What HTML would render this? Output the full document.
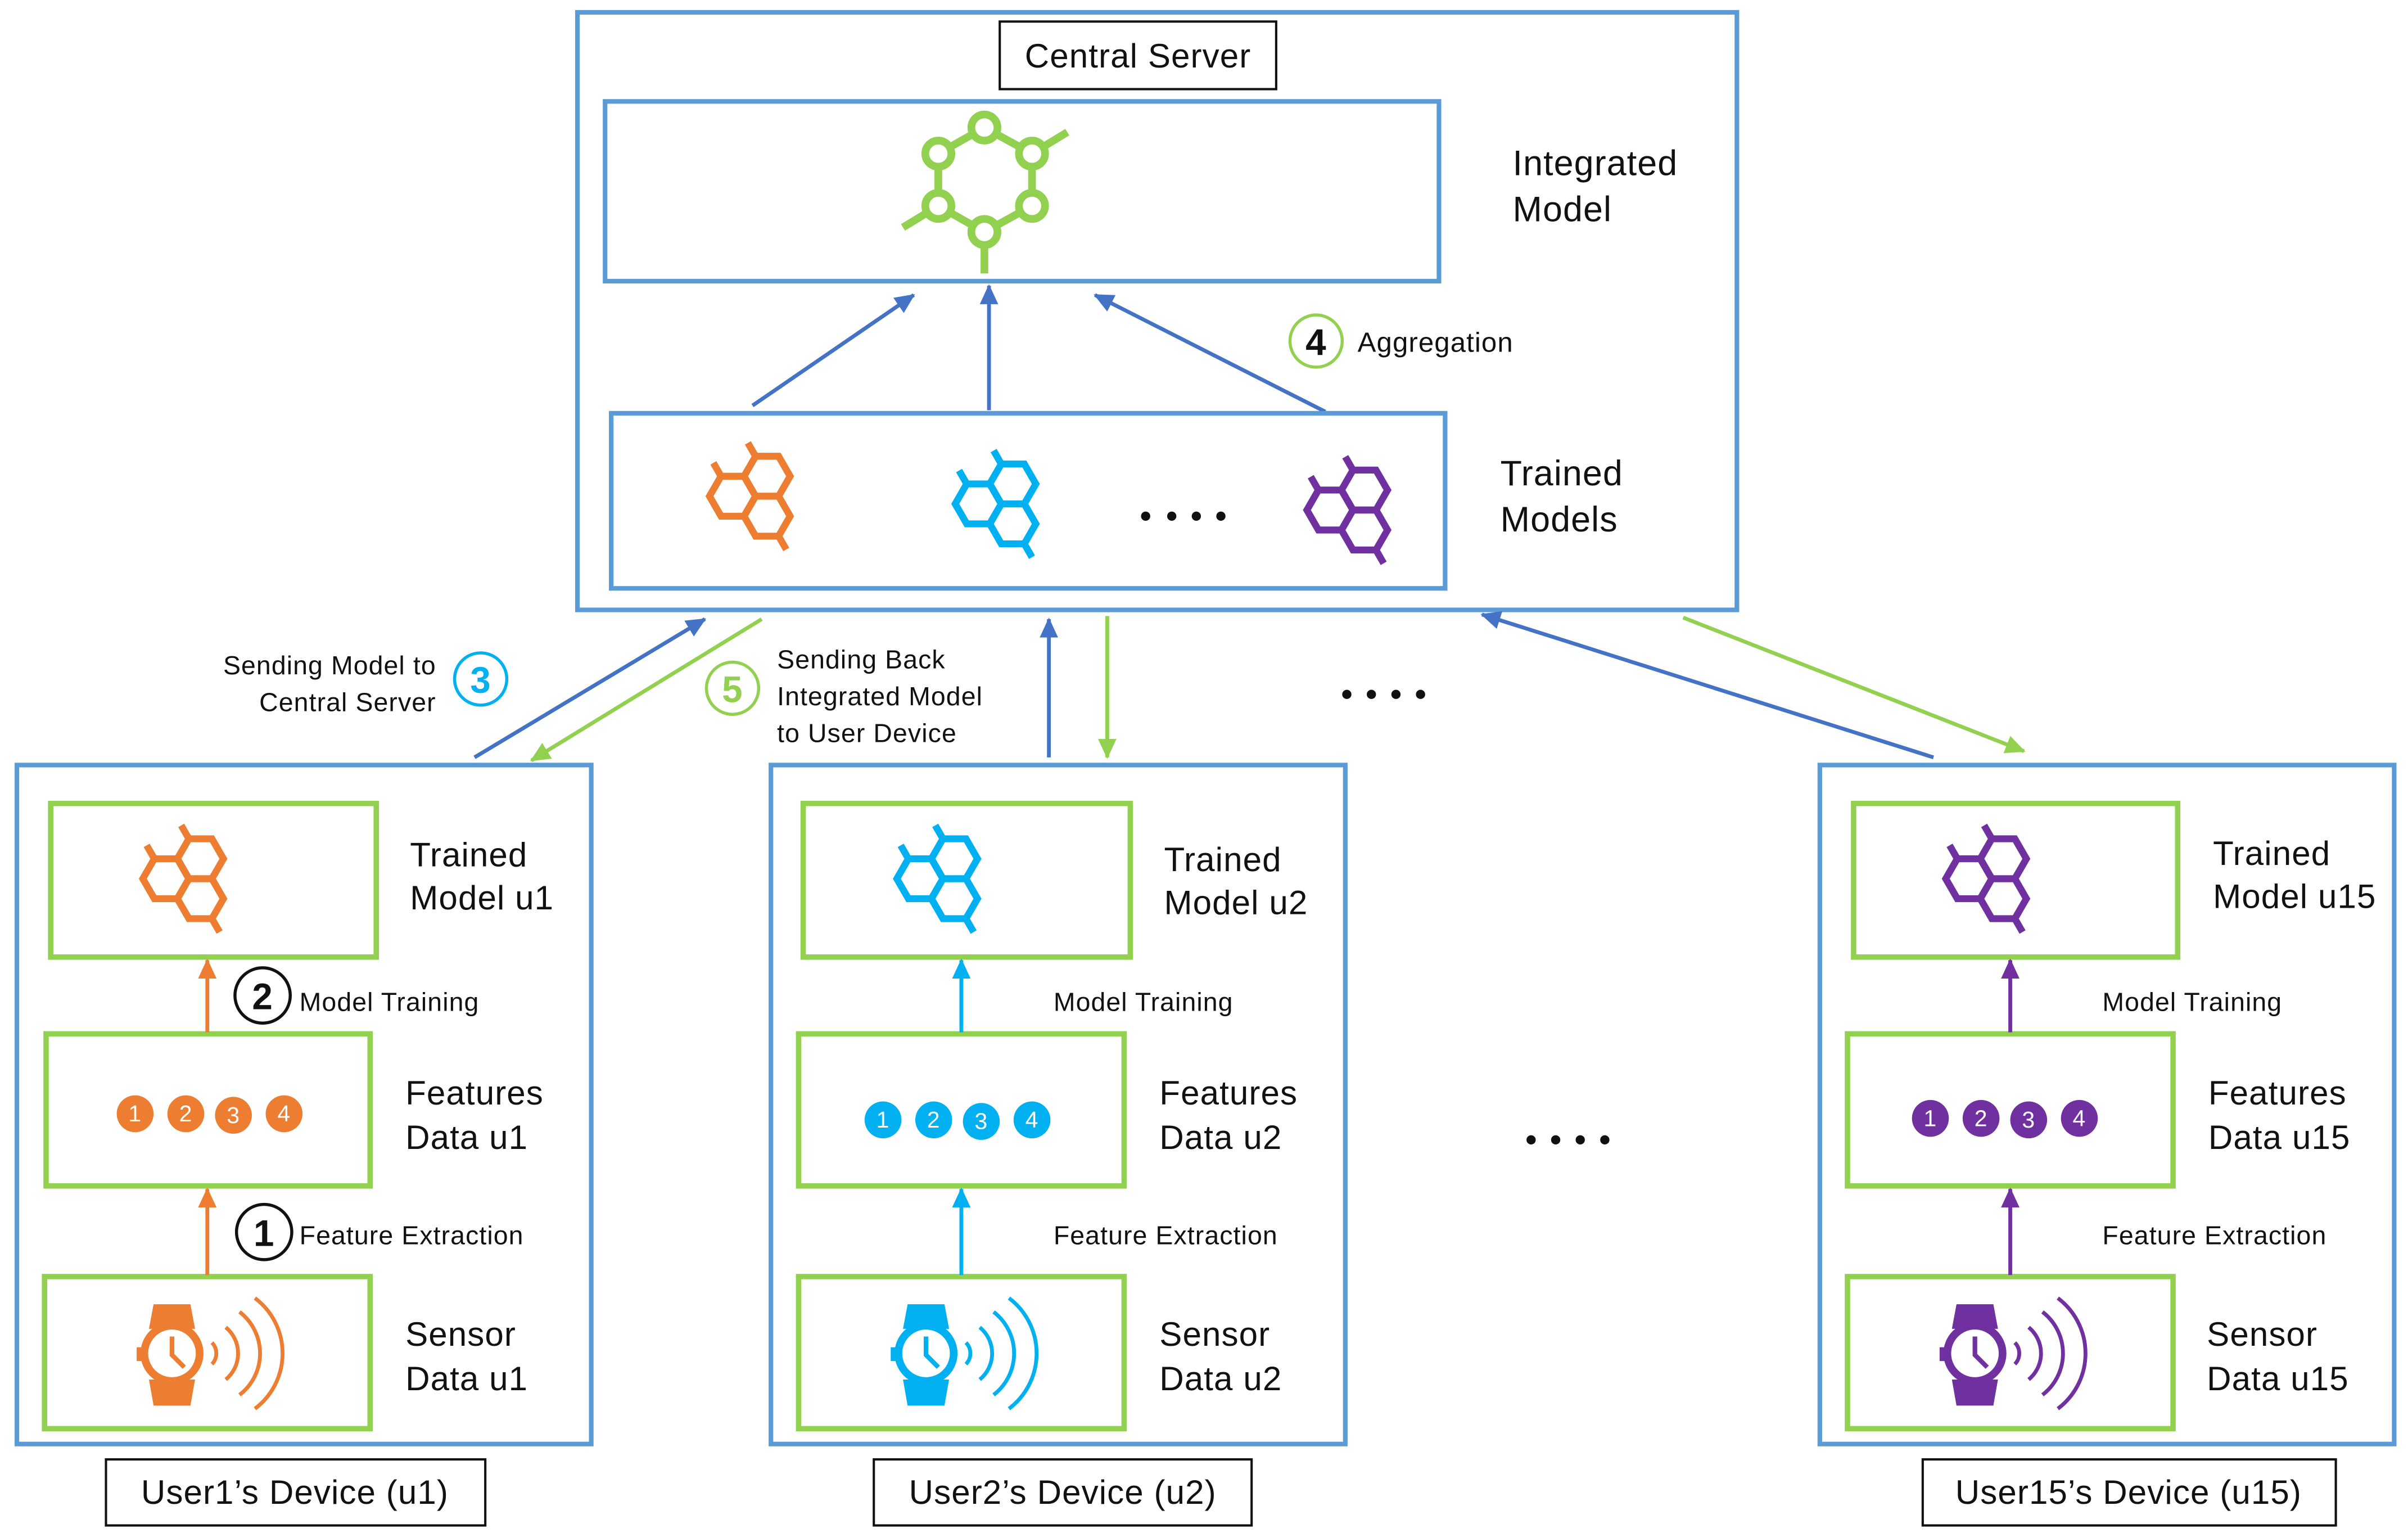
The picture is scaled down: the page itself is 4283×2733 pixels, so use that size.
<!DOCTYPE html>
<html><head><meta charset="utf-8"><style>
html,body{margin:0;padding:0;background:#fff}
svg{display:block}
text{font-family:"Liberation Sans",sans-serif;fill:#111;letter-spacing:0.4px}
</style></head><body>
<svg width="4283" height="2733" viewBox="0 0 1568 1000.5" xmlns="http://www.w3.org/2000/svg">
<defs>
<marker id="mB" markerUnits="userSpaceOnUse" markerWidth="14" markerHeight="14" refX="12" refY="7" orient="auto"><path d="M0,1 L13,7 L0,13 Z" fill="#4472C4"/></marker>
<marker id="mG" markerUnits="userSpaceOnUse" markerWidth="14" markerHeight="14" refX="12" refY="7" orient="auto"><path d="M0,1 L13,7 L0,13 Z" fill="#92D050"/></marker>
<marker id="mO" markerUnits="userSpaceOnUse" markerWidth="14" markerHeight="14" refX="12" refY="7" orient="auto"><path d="M0,1 L13,7 L0,13 Z" fill="#ED7D31"/></marker>
<marker id="mC" markerUnits="userSpaceOnUse" markerWidth="14" markerHeight="14" refX="12" refY="7" orient="auto"><path d="M0,1 L13,7 L0,13 Z" fill="#00B0F0"/></marker>
<marker id="mP" markerUnits="userSpaceOnUse" markerWidth="14" markerHeight="14" refX="12" refY="7" orient="auto"><path d="M0,1 L13,7 L0,13 Z" fill="#7030A0"/></marker>
<g id="hex" fill="none" stroke="currentColor" stroke-width="4.5">
<path d="M-15,0 L-7.5,-13 L7.5,-13 L15,0 L7.5,13 L-7.5,13 Z"/>
<path d="M7.5,-13 L15,-26 L30,-26 L37.5,-13 L30,0 L15,0 Z"/>
<path d="M7.5,13 L15,0 L30,0 L37.5,13 L30,26 L15,26 Z"/>
<path d="M-7.5,-13 L-12.5,-21.7 M15,-26 L10,-34.7 M30,26 L35,34.7"/>
</g>
<g id="watch">
<path d="M-13,-16 L-10,-32 L14,-32 L17,-16 Z" fill="currentColor"/>
<path d="M-13,17 L-10,34 L14,34 L17,17 Z" fill="currentColor"/>
<circle cx="2" cy="0" r="18" fill="#fff" stroke="currentColor" stroke-width="5"/>
<rect x="-21" y="-4" width="5" height="9" fill="currentColor"/>
<path d="M2,-11 L2,1 L10,9" fill="none" stroke="currentColor" stroke-width="3"/>
<g fill="none" stroke="currentColor" stroke-width="2.5">
<path d="M28,-7 A10,10 0 0 1 28,7"/>
<path d="M37,-17 A22,22 0 0 1 37,17"/>
<path d="M46,-27 A34,34 0 0 1 46,27"/>
<path d="M56,-36 A45,45 0 0 1 56,36"/>
</g>
</g>
</defs>

<!-- Central server -->
<rect x="376" y="8" width="755" height="389" fill="none" stroke="#5B9BD5" stroke-width="3"/>
<rect x="651" y="14" width="180" height="44" fill="#fff" stroke="#111" stroke-width="1.5"/>
<text x="741" y="44" font-size="22" text-anchor="middle">Central Server</text>
<rect x="394" y="66" width="543" height="117" fill="none" stroke="#5B9BD5" stroke-width="3"/>
<text x="985" y="114" font-size="23">Integrated</text>
<text x="985" y="144" font-size="23">Model</text>
<g stroke="#92D050" stroke-width="5" fill="none">
<path d="M641,83 L611,100 L611,134 L641,151 L672,134 L672,100 Z"/>
<path d="M672,100 L695,86 M611,134 L588,148 M641,151 L641,178"/>
</g>
<g fill="#fff" stroke="#92D050" stroke-width="5">
<circle cx="641" cy="83" r="8.5"/><circle cx="611" cy="100" r="8.5"/><circle cx="672" cy="100" r="8.5"/>
<circle cx="611" cy="134" r="8.5"/><circle cx="672" cy="134" r="8.5"/><circle cx="641" cy="151" r="8.5"/>
</g>
<g stroke="#4472C4" stroke-width="2.5">
<line x1="490" y1="264" x2="595" y2="192" marker-end="url(#mB)"/>
<line x1="644" y1="267" x2="644" y2="186" marker-end="url(#mB)"/>
<line x1="863" y1="268" x2="713" y2="192" marker-end="url(#mB)"/>
</g>
<circle cx="857" cy="222" r="17" fill="#fff" stroke="#92D050" stroke-width="2"/>
<text x="857" y="231" font-size="24" font-weight="bold" text-anchor="middle">4</text>
<text x="884" y="229" font-size="18">Aggregation</text>
<rect x="398" y="269" width="543" height="114" fill="none" stroke="#5B9BD5" stroke-width="3"/>
<text x="977" y="316" font-size="23">Trained</text>
<text x="977" y="346" font-size="23">Models</text>
<use href="#hex" x="477" y="323" style="color:#ED7D31"/>
<use href="#hex" x="637" y="328" style="color:#00B0F0"/>
<use href="#hex" x="866" y="332" style="color:#7030A0"/>
<g fill="#111"><circle cx="746" cy="336" r="3"/><circle cx="763" cy="336" r="3"/><circle cx="779" cy="336" r="3"/><circle cx="795" cy="336" r="3"/></g>

<line x1="309" y1="493" x2="459" y2="403" stroke="#4472C4" stroke-width="2.5" marker-end="url(#mB)"/>
<line x1="496" y1="403" x2="346" y2="495" stroke="#92D050" stroke-width="2.5" marker-end="url(#mG)"/>
<text x="284" y="439" font-size="17" text-anchor="end">Sending Model to</text>
<text x="284" y="463" font-size="17" text-anchor="end">Central Server</text>
<circle cx="313" cy="442" r="17" fill="#fff" stroke="#00B0F0" stroke-width="2"/>
<text x="313" y="451" font-size="24" font-weight="bold" text-anchor="middle" style="fill:#00B0F0">3</text>
<circle cx="477" cy="448" r="17" fill="#fff" stroke="#92D050" stroke-width="2"/>
<text x="477" y="457" font-size="24" font-weight="bold" text-anchor="middle" style="fill:#92D050">5</text>
<text x="506" y="435" font-size="17">Sending Back</text>
<text x="506" y="459" font-size="17">Integrated Model</text>
<text x="506" y="483" font-size="17">to User Device</text>
<line x1="683" y1="493" x2="683" y2="403" stroke="#4472C4" stroke-width="2.5" marker-end="url(#mB)"/>
<line x1="721" y1="401" x2="721" y2="493" stroke="#92D050" stroke-width="2.5" marker-end="url(#mG)"/>
<line x1="1259" y1="493" x2="965" y2="400" stroke="#4472C4" stroke-width="2.5" marker-end="url(#mB)"/>
<line x1="1096" y1="402" x2="1318" y2="489" stroke="#92D050" stroke-width="2.5" marker-end="url(#mG)"/>
<g fill="#111"><circle cx="877" cy="452" r="3"/><circle cx="893" cy="452" r="3"/><circle cx="909" cy="452" r="3"/><circle cx="925" cy="452" r="3"/>
<circle cx="997" cy="742" r="3"/><circle cx="1013" cy="742" r="3"/><circle cx="1029" cy="742" r="3"/><circle cx="1045" cy="742" r="3"/></g>

<!-- Device u1 -->
<rect x="11" y="498" width="374" height="442" fill="none" stroke="#5B9BD5" stroke-width="3"/>
<g fill="none" stroke="#92D050" stroke-width="3.5">
<rect x="33" y="523" width="212" height="100"/><rect x="30" y="673" width="211" height="99"/><rect x="29" y="831" width="212" height="99"/>
</g>
<use href="#hex" x="108" y="572" style="color:#ED7D31"/>
<g fill="#ED7D31"><circle cx="88" cy="725" r="12"/><circle cx="121" cy="725" r="12"/><circle cx="152" cy="726" r="12"/><circle cx="185" cy="725" r="12"/></g>
<g font-size="15" text-anchor="middle"><text x="88" y="730" style="fill:#fff">1</text><text x="121" y="730" style="fill:#fff">2</text><text x="152" y="731" style="fill:#fff">3</text><text x="185" y="730" style="fill:#fff">4</text></g>
<use href="#watch" x="110" y="881" style="color:#ED7D31"/>
<line x1="135" y1="672" x2="135" y2="625" stroke="#ED7D31" stroke-width="2.5" marker-end="url(#mO)"/>
<line x1="135" y1="830" x2="135" y2="774" stroke="#ED7D31" stroke-width="2.5" marker-end="url(#mO)"/>
<text x="267" y="564" font-size="22">Trained</text><text x="267" y="592" font-size="22">Model u1</text>
<text x="264" y="719" font-size="22">Features</text><text x="264" y="748" font-size="22">Data u1</text>
<text x="264" y="876" font-size="22">Sensor</text><text x="264" y="905" font-size="22">Data u1</text>
<circle cx="171" cy="648" r="18" fill="#fff" stroke="#111" stroke-width="2"/>
<text x="171" y="657" font-size="24" font-weight="bold" text-anchor="middle">2</text>
<text x="195" y="658" font-size="17">Model Training</text>
<circle cx="172" cy="802" r="18" fill="#fff" stroke="#111" stroke-width="2"/>
<text x="172" y="811" font-size="24" font-weight="bold" text-anchor="middle">1</text>
<text x="195" y="810" font-size="17">Feature Extraction</text>
<rect x="69" y="950" width="247" height="43" fill="#fff" stroke="#111" stroke-width="1.5"/>
<text x="192" y="979" font-size="22" text-anchor="middle">User1’s Device (u1)</text>

<!-- Device u2 -->
<rect x="502" y="498" width="374" height="442" fill="none" stroke="#5B9BD5" stroke-width="3"/>
<g fill="none" stroke="#92D050" stroke-width="3.5">
<rect x="523" y="523" width="213" height="100"/><rect x="520" y="673" width="212" height="99"/><rect x="520" y="831" width="212" height="99"/>
</g>
<use href="#hex" x="599" y="572" style="color:#00B0F0"/>
<g fill="#00B0F0"><circle cx="575" cy="729" r="12"/><circle cx="608" cy="729" r="12"/><circle cx="639" cy="730" r="12"/><circle cx="672" cy="729" r="12"/></g>
<g font-size="15" text-anchor="middle"><text x="575" y="734" style="fill:#fff">1</text><text x="608" y="734" style="fill:#fff">2</text><text x="639" y="735" style="fill:#fff">3</text><text x="672" y="734" style="fill:#fff">4</text></g>
<use href="#watch" x="601" y="881" style="color:#00B0F0"/>
<line x1="626" y1="672" x2="626" y2="625" stroke="#00B0F0" stroke-width="2.5" marker-end="url(#mC)"/>
<line x1="626" y1="830" x2="626" y2="774" stroke="#00B0F0" stroke-width="2.5" marker-end="url(#mC)"/>
<text x="758" y="567" font-size="22">Trained</text><text x="758" y="595" font-size="22">Model u2</text>
<text x="755" y="719" font-size="22">Features</text><text x="755" y="748" font-size="22">Data u2</text>
<text x="755" y="876" font-size="22">Sensor</text><text x="755" y="905" font-size="22">Data u2</text>
<text x="686" y="658" font-size="17">Model Training</text>
<text x="686" y="810" font-size="17">Feature Extraction</text>
<rect x="569" y="950" width="246" height="43" fill="#fff" stroke="#111" stroke-width="1.5"/>
<text x="692" y="979" font-size="22" text-anchor="middle">User2’s Device (u2)</text>

<!-- Device u15 -->
<rect x="1185" y="498" width="374" height="442" fill="none" stroke="#5B9BD5" stroke-width="3"/>
<g fill="none" stroke="#92D050" stroke-width="3.5">
<rect x="1207" y="523" width="211" height="100"/><rect x="1203" y="673" width="212" height="99"/><rect x="1203" y="831" width="212" height="99"/>
</g>
<use href="#hex" x="1282" y="572" style="color:#7030A0"/>
<g fill="#7030A0"><circle cx="1257" cy="728" r="12"/><circle cx="1290" cy="728" r="12"/><circle cx="1321" cy="729" r="12"/><circle cx="1354" cy="728" r="12"/></g>
<g font-size="15" text-anchor="middle"><text x="1257" y="733" style="fill:#fff">1</text><text x="1290" y="733" style="fill:#fff">2</text><text x="1321" y="734" style="fill:#fff">3</text><text x="1354" y="733" style="fill:#fff">4</text></g>
<use href="#watch" x="1284" y="881" style="color:#7030A0"/>
<line x1="1309" y1="672" x2="1309" y2="625" stroke="#7030A0" stroke-width="2.5" marker-end="url(#mP)"/>
<line x1="1309" y1="830" x2="1309" y2="774" stroke="#7030A0" stroke-width="2.5" marker-end="url(#mP)"/>
<text x="1441" y="563" font-size="22">Trained</text><text x="1441" y="591" font-size="22">Model u15</text>
<text x="1438" y="719" font-size="22">Features</text><text x="1438" y="748" font-size="22">Data u15</text>
<text x="1437" y="876" font-size="22">Sensor</text><text x="1437" y="905" font-size="22">Data u15</text>
<text x="1369" y="658" font-size="17">Model Training</text>
<text x="1369" y="810" font-size="17">Feature Extraction</text>
<rect x="1252" y="950" width="269" height="43" fill="#fff" stroke="#111" stroke-width="1.5"/>
<text x="1386" y="979" font-size="22" text-anchor="middle">User15’s Device (u15)</text>
</svg>
</body></html>
